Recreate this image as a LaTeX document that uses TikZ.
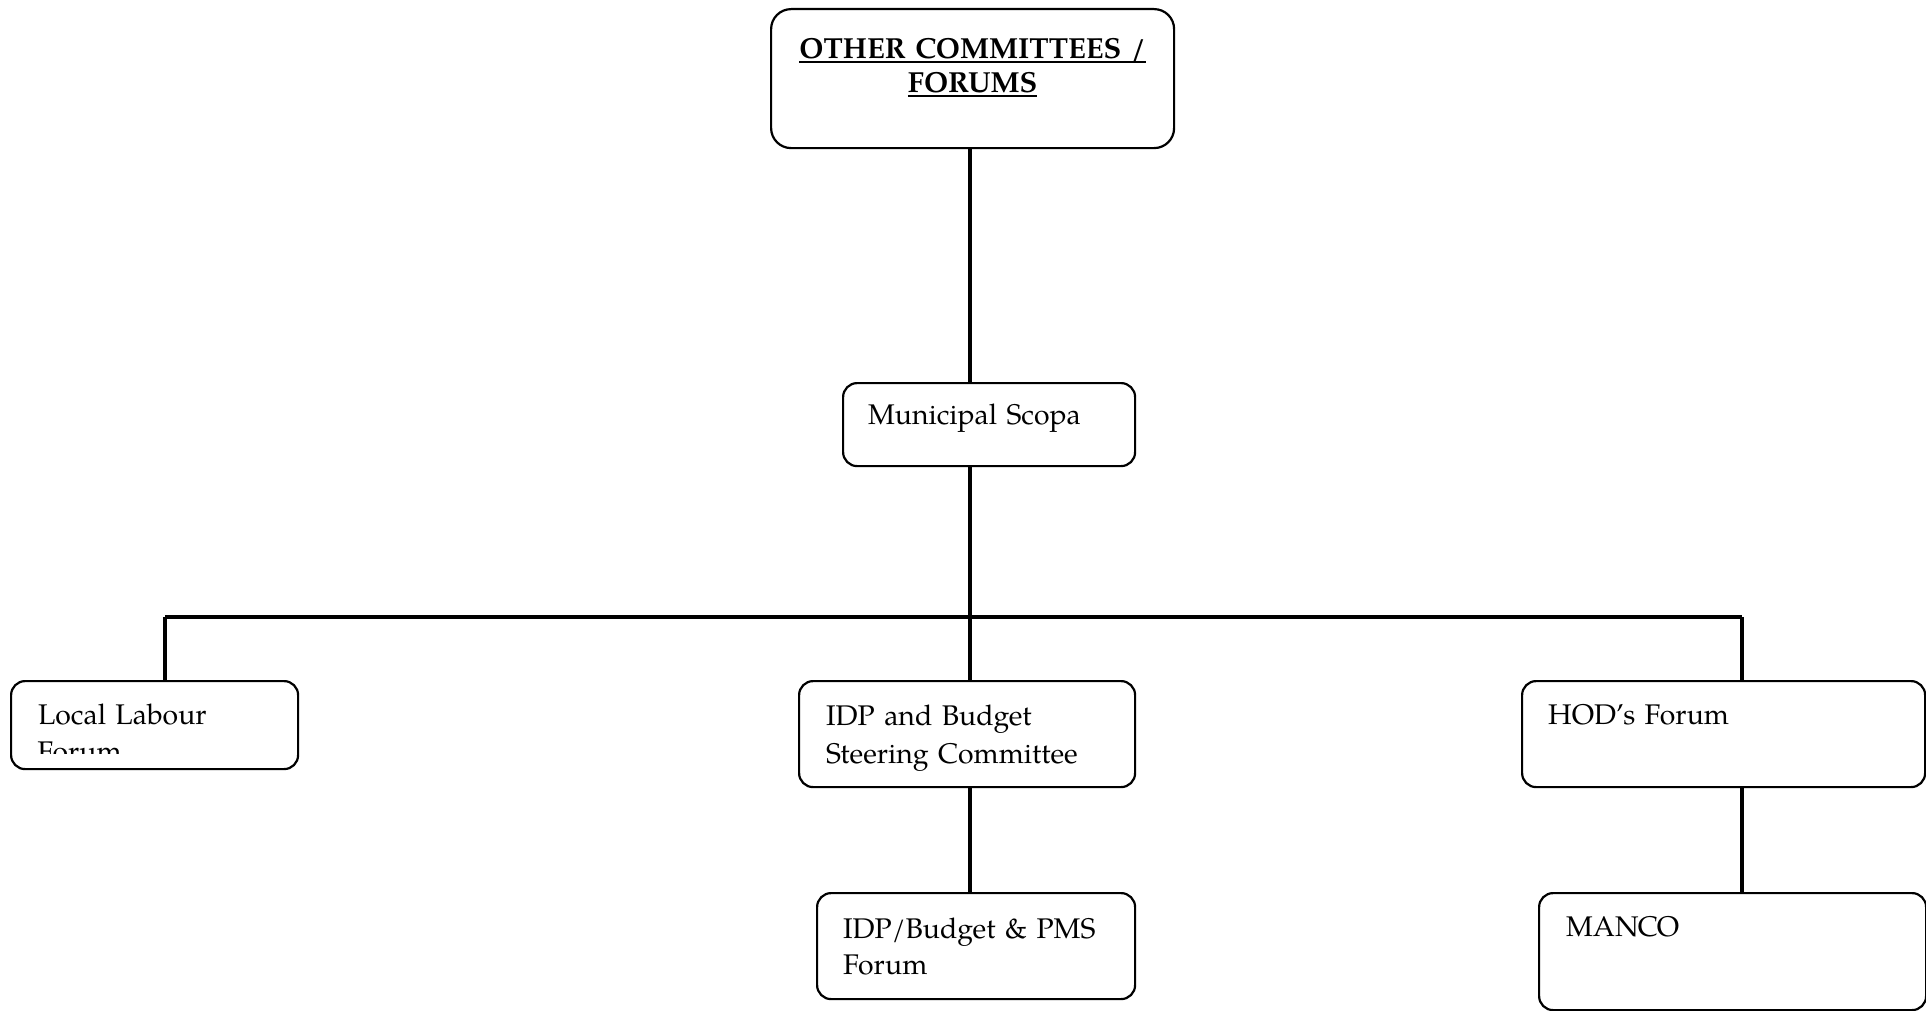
\documentclass[tikz,border=0pt]{standalone}
\usepackage{fontspec}
\setmainfont{TeX Gyre Pagella}
\newcommand{\boxul}[1]{\leavevmode\setbox0\hbox{#1}\rlap{\rule[-2.4pt]{\wd0}{0.9pt}}\box0}

\begin{document}
\begin{tikzpicture}[x=0.5pt,y=-0.5pt,font=\fontsize{14.2}{18.5}\selectfont,
  box/.style={draw,line width=1.1pt,rounded corners=7pt,anchor=north west,align=left,inner ysep=0pt},
  link/.style={line width=1.7pt}]
    \useasboundingbox (0,0) rectangle (1926,1011);

    \node[box,rounded corners=10pt,align=center,inner xsep=10pt,text width=181.5pt,text height=24.5pt,text depth=45pt,
      font=\fontsize{14.5}{17}\selectfont\bfseries] (other) at (770,8) {\boxul{OTHER COMMITTEES /}\\\boxul{FORUMS}};
    \node[box,inner xsep=12.5pt,text width=121pt,text height=20.5pt,text depth=21pt] (scopa) at (842,382) {Municipal Scopa};

    \node[box,inner xsep=13.5pt,text width=116.5pt,text height=21.5pt,text depth=22.5pt] (labour) at (10,680) {Local Labour};
    \begin{scope}
      \clip (labour.north west) rectangle (labour.east |- 0,753);
      \node[anchor=base west,inner sep=0pt] (labourforum) at (37,761) {Forum};
    \end{scope}
    \node[box,inner xsep=13.5pt,text width=141pt,text height=22pt,text depth=31pt,
      font=\fontsize{14.2}{19}\selectfont] (steering) at (798,680) {IDP and Budget\\Steering Committee};
    \node[box,inner xsep=13pt,text width=175.5pt,text height=21.5pt,text depth=31.5pt] (hod) at (1521,680) {HOD’s Forum};

    \node[box,inner xsep=13pt,text width=133pt,text height=22.5pt,text depth=30.5pt,
      font=\fontsize{14.2}{18}\selectfont] (pms) at (816,892) {IDP/Budget \& PMS\\Forum};
    \node[box,inner xsep=13.5pt,text width=166.5pt,text height=21.5pt,text depth=37pt] (manco) at (1538,892) {MANCO};

    % forks of the bus line
    \coordinate (fork) at (970,617);
    \coordinate (lfork) at (165,617);
    \coordinate (rfork) at (1742,617);

    \draw[link] (other.south -| fork) -- (fork |- scopa.north);
    \draw[link] (scopa.south -| fork) -- (fork);
    \draw[link] (lfork) -- (rfork);
    \draw[link] (lfork) -- (lfork |- labour.north);
    \draw[link] (fork) -- (fork |- steering.north);
    \draw[link] (rfork) -- (rfork |- hod.north);
    \draw[link] (steering.south -| fork) -- (fork |- pms.north);
    \draw[link] (hod.south -| rfork) -- (rfork |- manco.north);
  \end{tikzpicture}
\end{document}
